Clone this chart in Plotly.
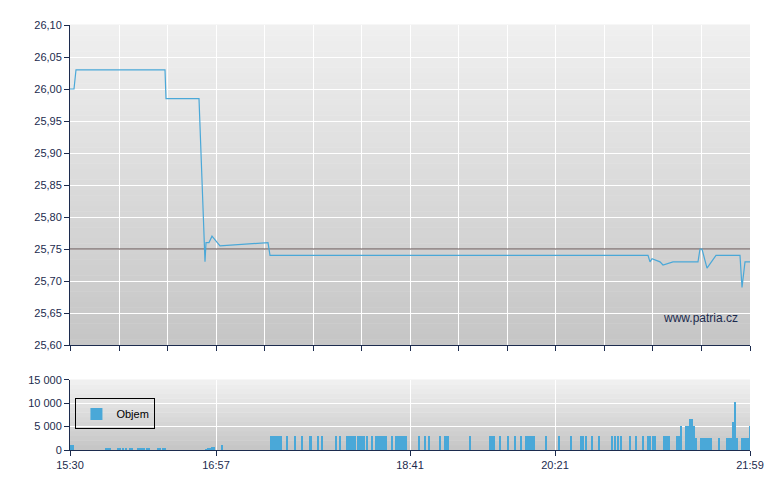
import plotly.graph_objects as go

# time axis in chart-units (0..680 across the session 15:30 - 21:59)
tick_pos = [0, 146, 340, 485, 680]
tick_lbl = ["15:30", "16:57", "18:41", "20:21", "21:59"]
grid_pos = [0, 49, 97, 146, 194, 243, 291, 340, 388, 437, 485, 534, 582, 631, 680]

price_t = [0, 4, 6, 95, 96, 129, 135, 136, 139, 142, 150, 198, 200, 578, 580, 582, 590, 593, 603, 628, 630, 632, 637, 646, 668, 670, 672, 675, 680]
price_v = [26.00, 26.00, 26.03, 26.03, 25.985, 25.985, 25.73, 25.76, 25.76, 25.77, 25.755, 25.76, 25.74, 25.74, 25.73, 25.735, 25.73, 25.725, 25.73, 25.73, 25.75, 25.75, 25.72, 25.74, 25.74, 25.74, 25.69, 25.73, 25.73]
ref_price = 25.75

vol_t = [1, 3, 36, 38, 40, 48, 50, 53, 56, 60, 62, 68, 70, 72, 74, 77, 79, 88, 90, 93, 95, 136, 138, 140, 142, 144, 152,
         201, 203, 205, 207, 209, 211, 217, 225, 232, 240, 241, 248, 252,
         266, 270, 277, 279, 281, 283, 285, 288, 290, 292, 294, 297, 302, 306, 308, 310, 312, 314, 316, 322, 326, 328, 330, 332, 334, 336,
         349, 355, 359, 370, 375, 377, 378, 400, 420, 422, 424, 430, 438, 445, 451, 456, 458, 460, 462, 464, 476, 489, 501, 511, 513, 516, 522, 529,
         542, 545, 548, 551, 560, 566, 573, 578, 580, 583, 585, 594, 596, 597, 598, 599, 607, 609, 611, 616, 618, 620, 622, 624, 626, 631, 633, 635, 637, 639, 641, 649, 657, 659, 661, 663, 665, 667, 672, 674, 675, 676, 678, 679, 680]
vol_v = [1000, 1000, 500, 500, 500, 500, 500, 500, 500, 500, 500, 500, 500, 500, 500, 500, 500, 500, 500, 500, 500, 300, 500, 500, 700, 700, 1000,
         3000, 3100, 3100, 3100, 3100, 3100, 3100, 3100, 3100, 3100, 3100, 3100, 3100,
         3100, 3100, 3100, 3100, 3100, 3100, 3100, 3100, 3100, 3100, 3100, 3100, 3100, 3100, 3100, 3100, 3100, 3100, 3100, 3100, 3100, 3100, 3100, 3100, 3100, 3100,
         3100, 3100, 3100, 3100, 3100, 3100, 3100, 3100, 3100, 3100, 3100, 3100, 3100, 3100, 3100, 3100, 3100, 3100, 3100, 3100, 3100, 3100, 3100, 3100, 3100, 3100, 3100, 3100,
         3100, 3100, 3100, 3100, 3100, 3100, 3100, 3100, 3100, 3100, 3100, 3100, 3100, 3100, 3100, 3100, 3100, 3000, 5200, 5200, 5200, 6700, 6700, 5200, 2600, 2600, 2600, 2600, 2600, 2600, 2600, 2600, 2600, 2600, 2600, 6000, 10300, 2600, 2600, 2600, 2600, 2600, 2600, 2600, 5200, 5200, 2600, 2600, 5200, 8200]

navy = "#1c2b4e"
blue = "#4aa8d8"

TOP = (0.247, 1.0)
BOT = (0.0, 0.165)


def strips(y0, y1, n=40):
    out = []
    for i in range(n):
        f = i / (n - 1)
        c = int(198 + (240 - 198) * f)
        out.append(dict(type="rect", xref="paper", yref="paper", x0=0, x1=1,
                        y0=y0 + (y1 - y0) * i / n, y1=y0 + (y1 - y0) * (i + 1) / n + 0.001,
                        fillcolor=f"rgb({c},{c},{c})", line=dict(width=0), layer="below"))
    return out


fig = go.Figure()
fig.add_trace(go.Scatter(x=[0, 680], y=[ref_price, ref_price], mode="lines", line=dict(color="#5a4848", width=1),
                         showlegend=False, hoverinfo="skip", xaxis="x", yaxis="y"))
fig.add_trace(go.Scatter(x=price_t, y=price_v, mode="lines", line=dict(color=blue, width=1.2),
                         showlegend=False, xaxis="x", yaxis="y"))
fig.add_trace(go.Bar(x=vol_t, y=vol_v, width=2.2, marker=dict(color=blue, line=dict(width=0)), name="Objem",
                     xaxis="x2", yaxis="y2"))

ptick = [25.60 + 0.05 * i for i in range(11)]
fig.update_layout(
    width=780, height=490, margin=dict(l=62, r=38, t=17, b=48),
    paper_bgcolor="white", plot_bgcolor="rgba(0,0,0,0)",
    font=dict(family="Liberation Sans, Arial", size=11, color=navy),
    bargap=0,
    shapes=strips(*TOP, 60) + strips(*BOT, 15),
    xaxis=dict(domain=[0, 1], range=[0, 680], anchor="y", tickvals=grid_pos, ticktext=[""] * len(grid_pos),
               ticks="outside", ticklen=5, tickcolor=navy, showgrid=True, gridcolor="white", gridwidth=1.2,
               showline=True, linecolor=navy, zeroline=False),
    yaxis=dict(domain=list(TOP), range=[25.6, 26.1], tickvals=ptick,
               ticktext=[f"{v:.2f}".replace(".", ",") for v in ptick],
               ticks="outside", ticklen=5, tickcolor=navy, showgrid=True, gridcolor="white", gridwidth=1.2,
               showline=True, linecolor=navy, zeroline=False),
    xaxis2=dict(domain=[0, 1], range=[0, 680], anchor="y2", tickvals=tick_pos, ticktext=tick_lbl,
                ticks="outside", ticklen=5, tickcolor=navy, showgrid=True, gridcolor="white", gridwidth=1.2,
                showline=True, linecolor=navy, zeroline=False),
    yaxis2=dict(domain=list(BOT), range=[0, 15000], tickvals=[0, 5000, 10000, 15000],
                ticktext=["0", "5 000", "10 000", "15 000"], anchor="x2",
                ticks="outside", ticklen=5, tickcolor=navy, showgrid=True, gridcolor="white", gridwidth=1.2,
                showline=True, linecolor=navy, zeroline=False),
    legend=dict(x=0.008, y=0.085, xanchor="left", yanchor="middle", bgcolor="rgba(0,0,0,0)",
                bordercolor="black", borderwidth=1, font=dict(size=11, color="black"),
                itemwidth=30, tracegroupgap=0),
    annotations=[dict(text="www.patria.cz", x=0.985, y=0.29, xref="paper", yref="paper", xanchor="right",
                      showarrow=False, font=dict(size=12, color=navy))],
)
fig.write_html("out.html")
